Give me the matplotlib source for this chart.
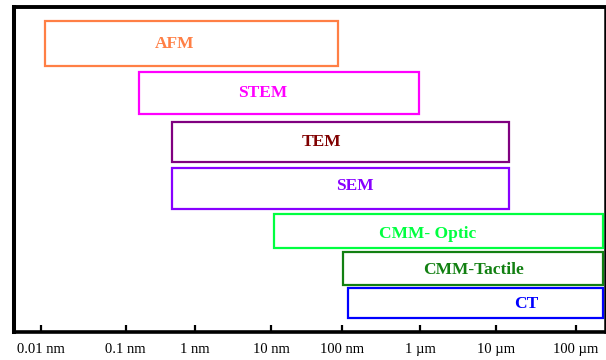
import numpy as np
import matplotlib
matplotlib.use("Agg")
import matplotlib.pyplot as plt
from matplotlib.patches import Rectangle

# ---------------- data ----------------
methods = ["AFM", "STEM", "TEM", "SEM", "CMM- Optic", "CMM-Tactile", "CT"]
range_min_nm = [0.011, 0.155, 0.46, 0.46, 11, 103, 120]
range_max_nm = [90, 960, 14600, 14600, 220000, 220000, 220000]
tick_values_nm = [0.01, 0.1, 1, 10, 100, 1e3, 1e4, 1e5]
tick_labels = ["0.01 nm", "0.1 nm", "1 nm", "10 nm", "100 nm",
               "1 \u00b5m", "10 \u00b5m", "100 \u00b5m"]

# ---------------- styles ----------------
edge_colors = ["#FF7F45", "#FF00FF", "#800080", "#8800FF",
               "#00FF40", "#128012", "#0000FF"]
text_colors = ["#FF7F45", "#FF00FF", "#800000", "#8800FF",
               "#00FF40", "#128012", "#0000FF"]

# ---------------- layout (figure pixels, from top) ----------------
box_top = [21, 71.7, 121.7, 168.3, 214, 251.7, 288.3]
box_bottom = [65.5, 114.3, 162.3, 209, 247.7, 285, 318.3]
label_x_px = [175, 262.8, 321.8, 355.3, 428, 473.7, 525.8]
label_y_px = [43, 91.7, 141, 185, 232.5, 268.8, 302.5]

# hand-drawn decade positions of the original axis (pixels)
decade_exp = np.array([-30, -3, -2, -1, 0, 1, 2, 3, 4, 5, 6, 30], float)
_px = [-43.6, 41, 125.6, 195, 271, 341.7, 420, 496, 575.7, 655.4]
decade_px = np.array([_px[0] - 27 * 84.6] + _px + [_px[-1] + 24 * 79.7])


def fwd(x):
    x = np.asarray(x, float)
    lx = np.log10(np.where(x > 0, x, 1e-300))
    return np.interp(lx, decade_exp, decade_px)


def inv(p):
    p = np.asarray(p, float)
    return 10 ** np.interp(p, decade_px, decade_exp)


W, H = 606, 360
fig = plt.figure(figsize=(W / 100, H / 100), dpi=100)
fig.patch.set_facecolor("white")

ax_l, ax_r, ax_t, ax_b = 13.7, 604.7, 7, 332
ax = fig.add_axes([ax_l / W, 1 - ax_b / H, (ax_r - ax_l) / W, (ax_b - ax_t) / H])
ax.set_xscale("function", functions=(fwd, inv))
ax.set_xlim(float(inv(ax_l)), float(inv(ax_r)))
ax.set_ylim(ax_b, ax_t)

for i, m in enumerate(methods):
    x0, x1 = range_min_nm[i], range_max_nm[i]
    y0, y1 = box_top[i], box_bottom[i]
    r = Rectangle((x0, y0), x1 - x0, y1 - y0, fill=False,
                  edgecolor=edge_colors[i], linewidth=1.6,
                  zorder=3, clip_on=False)
    ax.add_patch(r)
    ax.text(float(inv(label_x_px[i])), label_y_px[i] + 1.5, m,
            ha="center", va="center", color=text_colors[i],
            fontsize=12.5, fontweight="bold", family="Liberation Serif",
            zorder=4)

ax.set_xticks(tick_values_nm)
ax.set_xticklabels(tick_labels, family="Liberation Serif", fontsize=10.5)
ax.xaxis.set_minor_locator(matplotlib.ticker.NullLocator())
ax.tick_params(axis="x", direction="in", length=5, width=1.6,
               color="black", pad=8)
ax.set_yticks([])

ax.spines["left"].set_linewidth(2.9)
ax.spines["bottom"].set_linewidth(2.6)
ax.spines["top"].set_linewidth(2.8)
ax.spines["right"].set_linewidth(1.8)
for s in ax.spines.values():
    s.set_color("black")

fig.savefig("out.png", dpi=100, facecolor="white")
